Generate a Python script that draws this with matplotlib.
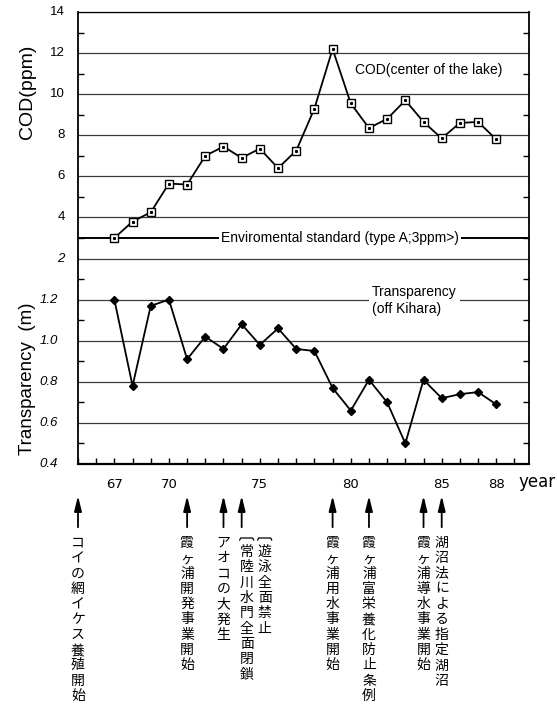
import matplotlib
matplotlib.use('Agg')
import matplotlib.pyplot as plt
import matplotlib.transforms as mtransforms

# yearly values (19xx)
years = list(range(67, 89))
cod = [3.0, 3.8, 4.25, 5.65, 5.6, 7.0, 7.45, 6.9, 7.35, 6.4, 7.25,
       9.3, 12.2, 9.55, 8.35, 8.8, 9.7, 8.65, 7.85, 8.6, 8.65, 7.8]
transparency = [1.20, 0.78, 1.17, 1.20, 0.91, 1.02, 0.96, 1.08, 0.98, 1.06, 0.96,
                0.95, 0.77, 0.66, 0.81, 0.70, 0.50, 0.81, 0.72, 0.74, 0.75, 0.69]
cod_standard = 3.0

cod_ticks = [2, 4, 6, 8, 10, 12, 14]
tr_ticks = [0.4, 0.6, 0.8, 1.0, 1.2]
year_ticks = [67, 70, 75, 80, 85, 88]

# events along the time axis
event_years = [65, 71, 73, 74, 74, 79, 81, 84, 85]
event_texts = ['コイの網イケス養殖開始', '霞ヶ浦開発事業開始', 'アオコの大発生',
               '常陸川水門全面閉鎖', '遊泳全面禁止', '霞ヶ浦用水事業開始',
               '霞ヶ浦富栄養化防止条例', '霞ヶ浦導水事業開始', '湖沼法による指定湖沼']
bracketed = ['常陸川水門全面閉鎖', '遊泳全面禁止']

LATIN = ['Liberation Sans', 'DejaVu Sans']
CJK = ['Noto Sans CJK JP', 'DejaVu Sans']


# both series share one axis: lower part transparency, upper part COD
def tr_pos(v):
    return (v - 0.4) / 0.2


def cod_pos(v):
    return 5 + (v - 2) / 2.0


fig = plt.figure(figsize=(5.57, 7.06), dpi=100)
W, H = 557.0, 706.0
ax = fig.add_axes([78 / W, 1 - 464 / H, 451 / W, 452 / H])

ax.set_xlim(65, 89.8)
ax.set_ylim(0, 11)

grid_pos = [tr_pos(v) for v in tr_ticks] + [cod_pos(v) for v in cod_ticks]
for gp in grid_pos:
    ax.axhline(gp, color='#3a3a3a', lw=0.9, zorder=1)

ax.axhline(cod_pos(cod_standard), color='black', lw=1.4, zorder=2)

ax.plot(years, [cod_pos(v) for v in cod], color='black', lw=1.3, marker='s',
        ms=6, mfc='white', mec='black', mew=1.0, zorder=4)
ax.plot(years, [cod_pos(v) for v in cod], ls='none', marker='s', ms=1.2,
        color='black', zorder=5)
ax.plot(years, [tr_pos(v) for v in transparency], color='black', lw=1.3,
        marker='D', ms=4.5, zorder=4)

# axis frame and ticks
for side in ['left', 'right']:
    ax.spines[side].set_linewidth(1.3)
ax.spines['bottom'].set_linewidth(1.6)
ax.spines['top'].set_linewidth(0.9)

ax.set_yticks(grid_pos)
ax.set_yticklabels([])
ax.set_yticks([g + 0.5 for g in range(11)], minor=True)
ax.tick_params(axis='y', which='major', length=0)
ax.tick_params(axis='y', which='minor', direction='in', length=4, width=1,
               left=True, right=True)

ax.set_xticks(year_ticks)
ax.set_xticklabels([str(y) for y in year_ticks], fontsize=9.5,
                   family='DejaVu Sans')
ax.set_xticks(range(65, 90), minor=True)
ax.tick_params(axis='x', which='both', direction='in', length=4, width=1, pad=10)

ytr = ax.get_yaxis_transform()
for v in cod_ticks:
    ax.text(-0.029, cod_pos(v), str(v), transform=ytr, ha='right', va='center',
            fontsize=9.5, family=LATIN, style='italic' if v == 2 else 'normal')
for v in tr_ticks:
    ax.text(-0.044, tr_pos(v), '%.1f' % v, transform=ytr, ha='right',
            va='center', fontsize=9.5, family=LATIN, style='italic')

ax.text(-0.113, 9.05, 'COD(ppm)', transform=ytr, rotation=90, ha='center',
        va='center', fontsize=14, family=LATIN)
ax.text(-0.113, 2.07, 'Transparency  (m)', transform=ytr, rotation=90,
        ha='center', va='center', fontsize=13.5, family=LATIN)

# series and standard labels
ax.text(0.615, 9.6, 'COD(center of the lake)', transform=ytr, ha='left',
        va='center', fontsize=10, family=LATIN, zorder=6)
ax.text(0.581, cod_pos(cod_standard), 'Enviromental standard (type A;3ppm>)',
        transform=ytr, ha='center', va='center', fontsize=10, family=LATIN,
        zorder=6, bbox=dict(boxstyle='square,pad=0.15', fc='white', ec='none'))
ax.text(0.652, 4.36, 'Transparency\n(off Kihara)', transform=ytr, ha='left',
        va='top', fontsize=10, family=LATIN, linespacing=1.25, zorder=6,
        bbox=dict(boxstyle='square,pad=0.25', fc='white', ec='none'))


# things below the axis, offsets in pixels from the bottom spine
def below(dx, dy):
    return mtransforms.offset_copy(ax.get_xaxis_transform(), fig=fig,
                                   x=dx, y=-dy, units='dots')


ax.text(89.8, 0, 'year', transform=below(-11, 18), ha='left', va='center',
        fontsize=12, family='DejaVu Sans', clip_on=False)

pitch = 15.3
done_arrows = []
for year, text in zip(event_years, event_texts):
    if year not in done_arrows:
        ax.annotate('', xy=(year, 0), xycoords=below(0, 29),
                    xytext=(year, 0), textcoords=below(0, 66),
                    arrowprops=dict(arrowstyle='-|>,head_length=0.9,head_width=0.22',
                                    color='black', lw=1.3, mutation_scale=10))
        done_arrows.append(year)
    dx, start = 0, 79
    if text in bracketed:
        # columns sharing one arrow get a small bracket on top
        dx = 5 + 18 * bracketed.index(text)
        start = 88
        bx, by = ax.transData.transform((year, 0))[0] + dx, H - 538
        fig.lines.append(plt.Line2D([bx - 7, bx - 6, bx + 6, bx + 7],
                                    [by - 2, by, by, by - 2], color='black',
                                    lw=0.9, transform=None))
    for i, ch in enumerate(text):
        ax.text(year, 0, ch, transform=below(dx, start + i * pitch), ha='center',
                va='center', fontsize=10, family=CJK, clip_on=False)

fig.savefig('out.png', dpi=100)
